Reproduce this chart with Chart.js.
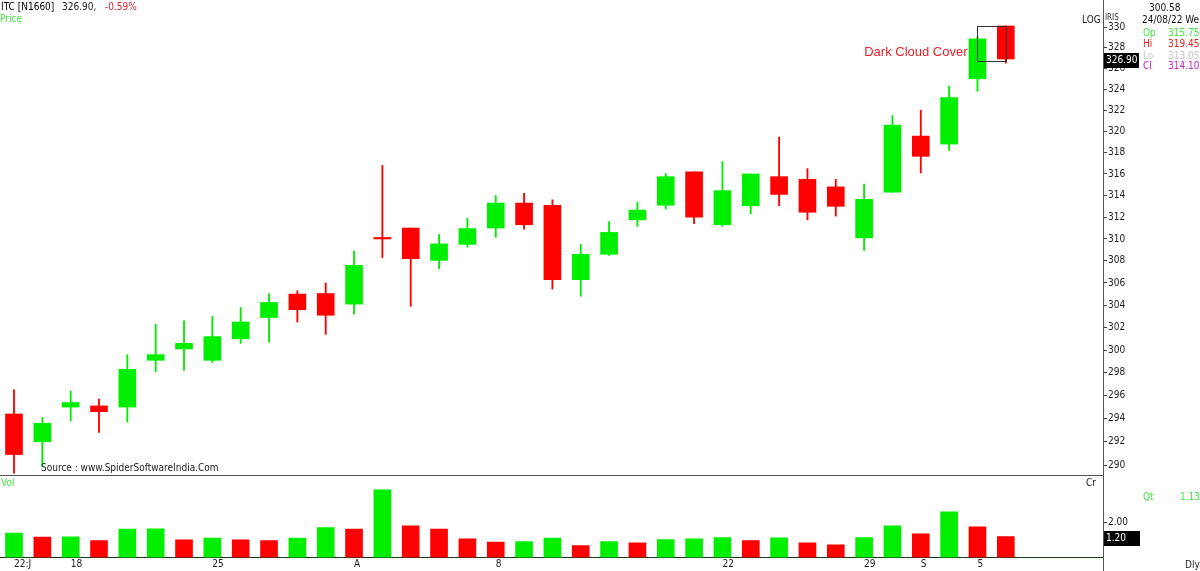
<!DOCTYPE html>
<html><head><meta charset="utf-8">
<script src="https://cdn.jsdelivr.net/npm/chart.js@4.4.0/dist/chart.umd.min.js"></script>
<style>
body{margin:0;background:#fff;}
#wrap{position:relative;width:1200px;height:571px;overflow:hidden;background:#fff;font-family:"DejaVu Sans Condensed","DejaVu Sans",sans-serif;font-size:10px;color:#111;}
canvas{position:absolute;left:0;}
.t{position:absolute;white-space:nowrap;line-height:12px;height:12px;}
</style></head><body>
<div id="wrap">
<canvas id="price" width="1200" height="476" style="top:0"></canvas>
<canvas id="vol" width="1200" height="95" style="top:476px"></canvas>
<div class="t" style="left:1px;top:1px;color:#000">ITC [N1660]</div>
<div class="t" style="left:62px;top:1px;color:#222">326.90,</div>
<div class="t" style="left:105px;top:1px;color:#e8202a">-0.59%</div>
<div class="t" style="left:0px;top:13px;color:#3fe83f">Price</div>
<div class="t" style="left:41px;top:462px;color:#222">Source : www.SpiderSoftwareIndia.Com</div>
<div class="t" style="left:1149px;top:2px;color:#111">300.58</div>
<div class="t" style="left:1082px;top:14px;color:#222">LOG</div>
<div class="t" style="left:1105px;top:12px;color:#333;font-size:8px">IRIS</div>
<div class="t" style="left:1142px;top:14px;color:#111">24/08/22 We</div>
<div class="t" style="left:1143px;top:27px;color:#3fe83f">Op</div>
<div class="t" style="left:1168px;top:27px;color:#3fe83f">315.75</div>
<div class="t" style="left:1143px;top:38px;color:#e02020">Hi</div>
<div class="t" style="left:1168px;top:38px;color:#e02020">319.45</div>
<div class="t" style="left:1143px;top:50px;color:#c8c8c8">Lo</div>
<div class="t" style="left:1168px;top:50px;color:#c8c8c8">313.05</div>
<div class="t" style="left:1143px;top:60px;color:#d020d0">Cl</div>
<div class="t" style="left:1168px;top:60px;color:#d020d0">314.10</div>
<div class="t" style="left:1px;top:477px;color:#3fe83f">Vol</div>
<div class="t" style="left:1086px;top:477px;color:#222">Cr</div>
<div class="t" style="left:1143px;top:491px;color:#3fe83f">Qt</div>
<div class="t" style="left:1180px;top:491px;color:#3fe83f">1.13</div>
<div class="t" style="left:1185px;top:559px;color:#222">Dly</div>
</div>
<script>
const dates = ['2022-07-14','2022-07-15','2022-07-18','2022-07-19','2022-07-20','2022-07-21','2022-07-22','2022-07-25','2022-07-26','2022-07-27','2022-07-28','2022-07-29','2022-08-01','2022-08-02','2022-08-03','2022-08-04','2022-08-05','2022-08-08','2022-08-10','2022-08-11','2022-08-12','2022-08-16','2022-08-17','2022-08-18','2022-08-19','2022-08-22','2022-08-23','2022-08-24','2022-08-25','2022-08-26','2022-08-29','2022-08-30','2022-09-01','2022-09-02','2022-09-05','2022-09-06'];
const opens  = [294.4,292.0,295.0,295.1,295.0,299.1,300.1,299.1,301.0,302.9,305.0,305.05,304.1,310.1,311.0,308.05,309.5,311.0,313.3,313.1,306.3,308.6,311.75,313.1,316.2,311.3,313.05,315.75,315.5,314.8,310.1,314.3,319.55,318.8,325.0,330.1];
const highs  = [296.5,294.1,296.4,295.7,299.6,302.3,302.6,303.0,303.8,305.05,305.3,306.0,308.9,316.8,311.0,310.4,311.9,314.0,314.2,313.6,309.5,311.6,313.4,316.05,316.2,317.15,316.0,319.45,316.5,315.5,315.05,321.5,322.0,324.3,329.1,330.1];
const lows   = [289.3,289.9,293.8,292.8,293.7,298.1,298.2,298.9,300.6,300.7,302.5,301.4,303.2,308.3,303.9,307.3,309.25,310.15,310.9,305.45,304.8,308.5,311.15,312.75,311.4,311.15,312.3,313.05,311.75,312.1,308.95,314.3,316.1,318.2,323.8,326.5];
const closes = [290.9,293.6,295.4,294.6,298.3,299.6,300.6,301.2,302.5,304.25,303.6,303.1,307.6,310.0,308.2,309.55,310.95,313.3,311.3,306.3,308.6,310.6,312.65,315.75,312.0,314.45,316.0,314.1,312.45,313.0,313.65,320.6,317.65,323.2,328.85,326.9];
const volumes = [1.41,1.18,1.19,0.98,1.64,1.65,1.02,1.12,1.02,0.98,1.12,1.73,1.64,3.90,1.83,1.64,1.08,0.89,0.92,1.12,0.69,0.92,0.85,1.04,1.08,1.15,0.98,1.13,0.85,0.73,1.15,1.83,1.37,2.63,1.77,1.20];
const priceTicks = [290,292,294,296,298,300,302,304,306,308,310,312,314,316,318,320,322,324,326,328,330];
const volTicks = [2];
const tickIndex = [0,2,7,12,17,25,30,32,34];
const tickText = ['22:J','18','25','A','8','22','29','S','5'];
const patternLabel = 'Dark Cloud Cover';
const patternFrom = 34, patternTo = 35, patternHigh = 330.1, patternLow = 326.75, patternLabelAt = 327.5;

const FONT = '"DejaVu Sans Condensed","DejaVu Sans",sans-serif';
Chart.defaults.font.family = FONT;
Chart.defaults.font.size = 10;
const green = '#00ee00', red = '#ff0000';
const candleColors = closes.map((c,i)=> c >= opens[i] ? green : red);
const volColors = volumes.map((v,i)=> (i===0 || v >= volumes[i-1]) ? green : red);
const xMin = -0.494, xMax = 38.43;
const noPadV = s => { s.paddingTop = 0; s.paddingBottom = 0; };
const noPadH = s => { s.paddingLeft = 0; s.paddingRight = 0; };

const pricePlugin = {
  id:'priceDeco',
  afterDraw(chart){
    const ctx = chart.ctx, xs = chart.scales.x, ys = chart.scales.y;
    ctx.save();
    const x1 = Math.round(xs.getPixelForValue(patternFrom)) + 0.5;
    const x2 = Math.round(xs.getPixelForValue(patternTo)) + 0.5;
    const y1 = Math.round(ys.getPixelForValue(patternHigh)) + 0.5;
    const y2 = Math.round(ys.getPixelForValue(patternLow)) + 0.5;
    ctx.strokeStyle = '#333'; ctx.lineWidth = 1;
    ctx.strokeRect(x1, y1, x2 - x1, y2 - y1);
    ctx.font = '13px "Liberation Sans", Arial, sans-serif';
    ctx.fillStyle = '#e8202a'; ctx.textAlign = 'right'; ctx.textBaseline = 'middle';
    ctx.fillText(patternLabel, x1 - 10, ys.getPixelForValue(patternLabelAt));
    const last = closes[closes.length-1];
    const yl = ys.getPixelForValue(last);
    ctx.fillStyle = '#000';
    ctx.fillRect(ys.left + 1, Math.round(yl - 6), 35, 15);
    ctx.fillStyle = '#fff'; ctx.textAlign = 'left'; ctx.font = '10px ' + FONT;
    ctx.fillText(last.toFixed(2), ys.left + 3, yl + 1.5);
    ctx.restore();
  }
};
const volPlugin = {
  id:'volDeco',
  afterDraw(chart){
    const ctx = chart.ctx, ys = chart.scales.y;
    ctx.save();
    ctx.strokeStyle = '#555'; ctx.lineWidth = 1;
    const xa = Math.round(ys.left) + 0.5;
    ctx.beginPath(); ctx.moveTo(xa, 0); ctx.lineTo(xa, chart.height); ctx.stroke();
    const last = volumes[volumes.length-1];
    const yl = ys.getPixelForValue(last);
    ctx.fillStyle = '#000';
    ctx.fillRect(ys.left + 1, Math.round(yl - 6), 36, 15);
    ctx.fillStyle = '#fff'; ctx.textAlign = 'left'; ctx.textBaseline = 'middle'; ctx.font = '10px ' + FONT;
    ctx.fillText(last.toFixed(2), ys.left + 3, yl + 1.5);
    ctx.restore();
  }
};

new Chart(document.getElementById('price'), {
  type:'bar',
  data:{ datasets:[
    {label:'Body', data: opens.map((o,i)=>({x:i, y:[o, closes[i]]})), backgroundColor:candleColors, borderWidth:0, grouped:false, categoryPercentage:1, barPercentage:1, maxBarThickness:17, minBarLength:1.5, order:0},
    {label:'Wick', data: lows.map((l,i)=>({x:i, y:[l, highs[i]]})), backgroundColor:candleColors, borderWidth:0, grouped:false, categoryPercentage:1, barPercentage:1, maxBarThickness:1.2, order:1}
  ]},
  options:{
    responsive:false, animation:false, devicePixelRatio:1,
    layout:{padding:0},
    plugins:{legend:{display:false}, tooltip:{enabled:false}},
    scales:{
      x:{type:'linear', min:xMin, max:xMax, offset:false, grid:{display:false, drawTicks:false}, ticks:{display:false}, border:{display:true, color:'#555'}, afterFit:s=>{s.height=1; noPadH(s);}},
      y:{type:'logarithmic', position:'right', min:289.15, max:332.64, bounds:'data',
         afterBuildTicks: ax=>{ ax.ticks = priceTicks.map(v=>({value:v})); },
         afterFit: s=>{ s.width = 97; noPadV(s); },
         grid:{drawOnChartArea:false, drawTicks:true, tickLength:4, color:'#444'},
         border:{color:'#555'},
         ticks:{autoSkip:false, padding:1, color:'#222', callback:v=>String(v)}}
    }
  },
  plugins:[pricePlugin]
});

new Chart(document.getElementById('vol'), {
  type:'bar',
  data:{ datasets:[{label:'Vol', data: volumes.map((v,i)=>({x:i, y:v})), backgroundColor:volColors, borderWidth:0, categoryPercentage:1, barPercentage:1, maxBarThickness:17}]},
  options:{
    responsive:false, animation:false, devicePixelRatio:1,
    layout:{padding:{top:1}},
    plugins:{legend:{display:false}, tooltip:{enabled:false}},
    scales:{
      x:{type:'linear', min:xMin, max:xMax, offset:false, grid:{display:false, drawTicks:false},
         border:{display:true, color:'#1a3a1a', dash:[2,2]},
         afterBuildTicks: ax=>{ ax.ticks = tickIndex.map(v=>({value:v})); },
         afterFit: s=>{ s.height = 13.5; noPadH(s); },
         ticks:{autoSkip:false, maxRotation:0, align:'start', padding:1, color:'#222', callback:v=> tickText[tickIndex.indexOf(v)]}},
      y:{type:'linear', position:'right', min:0, max:4.64,
         afterBuildTicks: ax=>{ ax.ticks = volTicks.map(v=>({value:v})); },
         afterFit: s=>{ s.width = 97; noPadV(s); },
         grid:{drawOnChartArea:false, drawTicks:true, tickLength:4, color:'#444'},
         border:{color:'#555'},
         ticks:{padding:1, color:'#222', callback:v=>Number(v).toFixed(2)}}
    }
  },
  plugins:[volPlugin]
});
</script>
</body></html>
